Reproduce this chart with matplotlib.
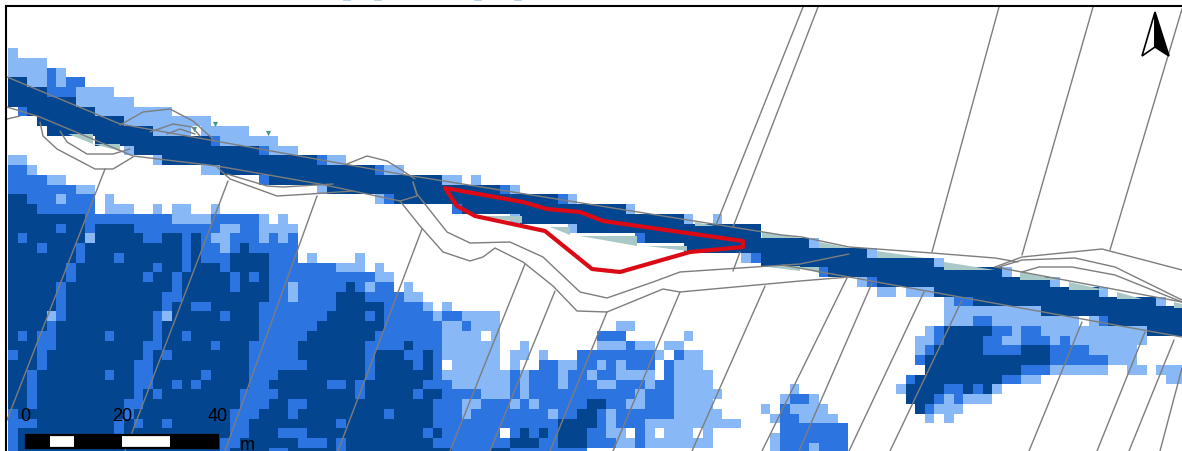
import re
import numpy as np
import matplotlib
matplotlib.use("Agg")
import matplotlib.pyplot as plt
from matplotlib.colors import ListedColormap
from matplotlib.patches import Polygon, Rectangle

plt.rcParams['font.family'] = ['Liberation Sans', 'DejaVu Sans']

# map units are screen-scaled map coordinates; one raster cell is CELL_W x CELL_H
CELL_W, CELL_H = 9.65, 9.75
ORIGIN_X, ORIGIN_Y = 8.05, 49.0
EAST_SPLIT_COL, EAST_ORIGIN_Y = 78, 44.0
N_COLS, N_ROWS = 122, 42
CLASS_COLORS = ['#ffffff', '#88b8f6', '#2c74e0', '#03468f']
CODES = {'L': 1, 'M': 2, 'D': 3, 'W': 0}

raster_rows = [
 "L0-1",
 "L0-4",
 "L0-4 M4-6 L5-6",
 "D0-2 L2-4 M4-8 L5-6",
 "D0-4 M4-7 L7-11",
 "D0-7 L7-13",
 "M1-2 D2-9 L9-17",
 "D3-12 L12-21",
 "D4-15 L15-25 W19-20",
 "D9-21 M21-22 L22-28",
 "L12-13 D13-26 M26-27 L27-30",
 "L0-2 L15-16 D16-32 M32-33 L33-35",
 "M0-2 L2-3 L20-22 D22-38 M38-39 L39-41",
 "M0-4 L4-6 M26-27 D27-45 L45-47 L48-49",
 "M0-7 L7-9 L32-33 D33-51 M51-52 L52-53",
 "D0-2 M2-9 L5-6 L10-11 L38-39 M39-40 D40-57 M57-58 L58-59",
 "D0-3 M3-9 L10-13 L15-16 L17-19 L21-22 M46-47 D47-64 L64-65",
 "D0-8 M8-17 L17-21 M21-26 L26-27 L28-29 L52-53 D53-70 L70-71 L73-74",
 "D0-8 M5-6 M8-9 D9-13 M13-22 L22-24 M24-26 L26-30 L58-59 D59-78",
 "D0-8 M1-2 L8-9 D9-14 M14-16 D16-18 M18-19 D19-20 M20-21 L21-23 M23-26 L26-27 M27-28 L28-29 M29-30 M65-66 D66-78",
 "D0-7 M3-4 M7-8 D8-18 M18-19 D19-20 M20-22 L22-23 M23-24 D24-25 M25-30 D70-78 D78-83 L83-84",
 "D0-7 M7-8 D8-18 M11-12 M18-19 D19-20 M20-23 D23-27 M27-30 L31-32 L36-37 L76-77 M77-78 D78-89 L89-90",
 "D0-6 M6-7 D7-18 M15-16 M18-19 D19-23 M22-23 D23-27 M27-34 L34-37 L38-39 D78-96 L96-97",
 "D0-6 M6-7 D7-17 M14-15 M17-18 D18-23 M23-24 D24-25 M25-26 D26-27 M27-38 L38-40 M84-85 D85-103 L103-104",
 "D0-5 M5-6 D6-17 M17-18 D18-23 M23-24 D24-27 M27-29 L29-30 M30-35 D35-36 M36-37 L37-38 M38-40 L41-42 L88-89 M89-90 D90-108 L108-109",
 "D0-5 M5-6 D6-16 M16-18 D18-27 M27-29 L29-30 M30-34 D34-37 M37-41 L41-43 L90-92 L93-96 D96-113 L113-114",
 "D0-5 M5-6 D6-16 M16-17 D17-19 M19-21 D21-26 M26-34 D34-39 M39-43 L43-44 L45-46 L97-98 M98-100 D100-119 L119-120",
 "D0-4 L4-5 M5-6 D6-15 M15-16 L16-17 D17-22 M22-23 D23-26 M26-33 D33-37 M37-38 D38-39 M39-44 L44-45 M45-47 L47-51 L97-107 D107-122",
 "D0-4 M4-5 D5-15 M15-16 D16-26 M26-32 D32-39 M39-45 L45-47 M47-48 L48-51 L63-65 L97-100 M100-102 L102-111 L112-113 M113-114 D114-122",
 "D0-3 M1-2 M3-5 D5-15 M10-11 M15-16 D16-26 M18-19 M26-31 D31-38 M38-45 L45-49 L50-51 M61-64 L70-71 L95-96 M96-97 D97-102 M102-104 L104-105 M105-107 L107-118 D118-122",
 "D0-3 M3-5 D5-14 M14-16 D16-21 M21-22 D22-25 M25-30 D30-37 M37-41 D41-42 M42-45 L45-51 L53-54 L61-64 M64-65 L65-67 L68-70 L94-96 M96-97 D97-101 M101-103 L103-105 M105-108 L108-109 M109-110 L110-118",
 "M0-1 D1-3 M3-4 D4-14 M14-15 D15-16 M16-17 D17-25 M25-30 D30-37 M37-38 D38-41 M41-45 D43-44 L45-51 L52-54 L55-56 M59-67 L67-68 M69-70 L70-72 L94-95 M95-96 D96-101 M101-105 D105-108 M108-112 L112-117",
 "D0-3 M3-4 D4-13 M13-15 D15-25 M25-31 D31-37 M37-38 D38-42 M42-43 D43-44 M44-45 L46-51 L52-53 M55-57 L57-59 M59-61 L61-62 M62-63 L63-64 M64-67 M68-69 L69-72 M94-95 D95-108 M108-114 L114-117",
 "D0-2 M2-3 D3-13 M10-11 M13-15 D15-20 M20-21 D21-25 M25-28 D28-37 M37-38 D38-44 M44-45 L45-52 M52-53 L53-54 M54-57 L57-58 M58-60 L60-61 M61-63 L63-67 M68-69 L69-73 D95-105 M105-108 L108-114 L116-118 L119-122",
 "D0-2 M2-3 D3-13 M13-15 D15-17 M17-18 D18-19 M19-20 D20-25 M25-27 D27-33 M33-35 D35-36 M36-37 D37-43 M43-46 L46-52 M52-53 L53-54 M54-57 L57-58 M58-61 L61-63 M63-66 L66-67 M67-69 L69-73 M93-94 D94-103 M103-105 L105-107 L120-122",
 "D0-2 M2-3 D3-13 M13-14 D14-15 M15-16 D16-24 M24-28 D28-36 M36-37 D37-42 M42-43 D43-45 M45-49 L49-52 M52-53 L53-54 M54-65 L65-66 M66-69 L69-74 L81-82 L92-93 D93-97 M97-99 D99-100 M100-101 D101-102 L102-103",
 "D0-2 M2-3 D3-12 M12-14 D14-24 M24-27 D27-29 M29-31 D31-44 M44-52 L47-49 L52-53 M53-54 L54-55 M55-60 D60-62 M62-64 L64-66 M66-69 L69-73 L80-81 M81-83 L83-84 D93-96 M96-97 L97-98 M98-99 L99-102",
 "M0-1 D1-12 M12-13 D13-23 M23-26 D26-29 M29-30 D30-39 M39-40 D40-44 M44-47 L47-48 M48-56 L56-57 M57-59 D59-61 M61-62 L62-63 M63-69 L69-74 L78-79 M80-81 L81-85 D94-95 M95-96 L96-99",
 "M0-3 D3-11 M11-12 D12-13 M13-14 D14-16 M16-17 D17-23 M23-25 D25-34 M34-35 D35-44 M44-57 D57-61 M61-62 L62-63 M63-66 L66-76 L79-80 M80-82 L82-86 L95-96 L97-98",
 "M0-1 D1-11 M11-12 D12-23 M23-25 D25-28 M28-31 D31-43 M43-44 D44-45 M45-51 M52-53 D53-54 M54-55 D55-56 M56-57 D57-60 M60-62 L62-64 M65-66 L66-67 L68-71 L72-73 M80-87",
 "M0-1 D1-22 M22-24 D24-30 M30-33 D33-34 M34-35 D35-44 M44-52 D52-55 M55-57 D57-60 M60-63 L63-65 M65-66 L66-73 L79-80 M80-87",
 "M0-1 D1-22 M22-23 D23-27 M27-29 D29-34 M34-35 D35-46 M46-50 D50-52 M52-60 L79-80 M80-87 L83-84",
]

# parcel boundaries, each (x, y) pairs in map coordinates
parcel_lines = [
 [(803,8),(716,226)], [(818,8),(733,228)], [(740,253),(733,272)],
 [(999,8),(932,253)], [(1093,8),(1022,256)], [(1182,10),(1110,251)],
 [(105,170),(7,421)], [(228,182),(125,452)], [(317,197),(225,452)],
 [(422,230),(338,452)], [(525,265),(450,452)], [(555,292),(490,452)],
 [(607,313),(550,452)], [(680,293),(613,452)], [(765,287),(692,452)],
 [(847,279),(762,452)], [(872,284),(799,452)], [(924,293),(849,452)],
 [(962,301),(890,452)], [(1082,323),(1029,452)], [(1145,333),(1097,452)],
 [(1174,341),(1129,452)], [(1182,369),(1160,452)],
]
road_lines = [
 [(7,78),(120,125),(400,175),(782,236),(802,238),(849,248),(932,254),(995,259),(1018,263)],
 [(7,108),(40,118),(133,157),(217,167),(320,185),(400,202)],
 [(782,266),(849,278),(1182,338)],
 [(995,268),(1182,303)],
 [(7,120),(20,117)],
 [(40,123),(43,137),(57,150),(95,170),(113,170),(133,158)],
 [(60,132),(67,143),(87,155),(113,155),(130,150)],
 [(120,126),(143,113),(170,110),(193,122),(213,140)],
 [(150,133),(173,125),(192,128),(200,137)],
 [(167,135),(180,130),(195,135)],
 [(217,168),(230,180),(277,197),(310,195),(353,192)],
 [(227,175),(267,187),(283,188),(333,185)],
 [(347,165),(367,157),(387,162),(400,170),(415,180)],
 [(413,183),(417,195),(447,233),(470,244),(510,243),(543,258),(580,293),(607,299),(653,283),(680,273),(800,265),(849,255)],
 [(400,202),(420,227),(443,253),(470,262),(483,258),(495,249),(523,263),(553,287),(577,312),(607,313),(663,290),(680,293),(800,282),(849,278)],
 [(400,202),(417,197),(413,183)],
 [(995,268),(1022,258),(1102,250),(1182,271)],
 [(999,268),(1022,261),(1075,259),(1115,268),(1182,301)],
 [(1022,273),(1039,268),(1072,268),(1115,276),(1182,303)],
]
sage_wedges = [
 [(819,243),(849,249),(819,249)], [(877,252),(925,259),(877,259)],
 [(944,263),(995,271),(944,271)], [(1020,273),(1059,281),(1020,281)],
 [(1069,283),(1105,291),(1069,291)], [(1117,293),(1142,300),(1117,300)],
 [(1174,303),(1182,305),(1182,309),(1174,309)],
 [(695,223),(715,227),(695,227)], [(762,233),(800,239),(762,239)],
 [(580,237),(637,237),(637,247)], [(550,228),(570,228),(570,236)],
 [(647,247),(687,247),(687,252)], [(483,217),(522,217),(522,224)],
 [(68,135),(93,135),(93,145)], [(93,145),(120,145),(120,152)],
 [(760,267),(800,267),(800,272)], [(799,268),(819,268),(819,274)],
]
site_outline = [(445,189),(523,203),(547,210),(580,213),(603,222),(743,242),(743,248),(690,253),(620,273),(592,270),(545,232),(475,217),(457,207)]
vegetation_marks = [(215,125),(268,134),(194,130)]
clipped_title_specks = [347, 378, 478, 518]

scale_edges_m = [0, 5, 10, 20, 30, 40]
scale_labels = ['0', '20', '40']
scale_label_m = [0, 20, 40]
scale_unit = 'm'
scale_origin = (25.7, 436.0)
scale_px_per_m = 4.81
north_outline = [(1155,13),(1142,57),(1155,48),(1169,57)]

# build the raster from its run lists
grid = np.zeros((N_ROWS, N_COLS), dtype=int)
for k, row in enumerate(raster_rows):
    for code, c0, c1 in re.findall(r'([LMDW])(\d+)-(\d+)', row):
        grid[k, int(c0):int(c1)] = CODES[code]

fig = plt.figure(figsize=(11.82, 4.52), dpi=100)
ax = fig.add_axes([6/1182, 0, 1176/1182, 445/452])
ax.set_xlim(6, 1182)
ax.set_ylim(452, 7)
ax.set_xticks([]); ax.set_yticks([])
for side in ('right', 'bottom'):
    ax.spines[side].set_visible(False)
for side in ('left', 'top'):
    ax.spines[side].set_linewidth(1.5)
    ax.spines[side].set_zorder(20)

x_edges = ORIGIN_X + CELL_W * np.arange(N_COLS + 1)
y_west = ORIGIN_Y + CELL_H * np.arange(N_ROWS + 1)
y_east = EAST_ORIGIN_Y + CELL_H * np.arange(N_ROWS + 1)
cmap = ListedColormap(CLASS_COLORS)
ax.pcolormesh(x_edges[:EAST_SPLIT_COL + 1], y_west, grid[:, :EAST_SPLIT_COL], cmap=cmap, vmin=0, vmax=3, zorder=1)
ax.pcolormesh(x_edges[EAST_SPLIT_COL:], y_east, grid[:, EAST_SPLIT_COL:], cmap=cmap, vmin=0, vmax=3, zorder=1)

for wedge in sage_wedges:
    ax.add_patch(Polygon(wedge, closed=True, facecolor='#a9c9c9', edgecolor='none', zorder=2))

xs, ys = zip(*vegetation_marks)
ax.scatter(xs, ys, marker='v', s=14, color='#3f9a8c', linewidths=0, zorder=2)

for line in parcel_lines + road_lines:
    xs, ys = zip(*line)
    ax.plot(xs, ys, color='#7d7d7d', lw=1.0, solid_capstyle='round', zorder=3)

ax.add_patch(Polygon(site_outline, closed=True, fill=False, edgecolor='#dc0a14', lw=3.0, joinstyle='round', zorder=5))

# north arrow
tip, left, notch, right = north_outline
ax.add_patch(Polygon([tip, left, notch], closed=True, facecolor='white', edgecolor='black', lw=1.2, joinstyle='miter', zorder=6))
ax.add_patch(Polygon([tip, notch, right], closed=True, facecolor='black', edgecolor='black', lw=1.2, joinstyle='miter', zorder=6))

# scale bar
sx, sy = scale_origin
for i in range(len(scale_edges_m) - 1):
    a, b = scale_edges_m[i], scale_edges_m[i + 1]
    ax.add_patch(Rectangle((sx + a*scale_px_per_m, sy), (b-a)*scale_px_per_m, 13,
                           facecolor='white' if i in (1, 3) else 'black', edgecolor='none', zorder=6))
ax.add_patch(Rectangle((sx, sy), 40*scale_px_per_m, 13, fill=False, edgecolor='black', lw=1.6, zorder=7))
for lab, m in zip(scale_labels, scale_label_m):
    ax.text(sx + m*scale_px_per_m, 421, lab, ha='center', va='baseline', fontsize=13, color='black', zorder=8)
ax.text(247, 449.5, scale_unit, ha='center', va='baseline', fontsize=13, color='black', zorder=8)

# descenders of a title cropped off above the frame
for x in clipped_title_specks:
    ax.plot([x - 3, x + 3], [0.6, 0.6], color='#a8c8de', lw=1.2, clip_on=False, zorder=8)

fig.savefig('out.png', dpi=100)
